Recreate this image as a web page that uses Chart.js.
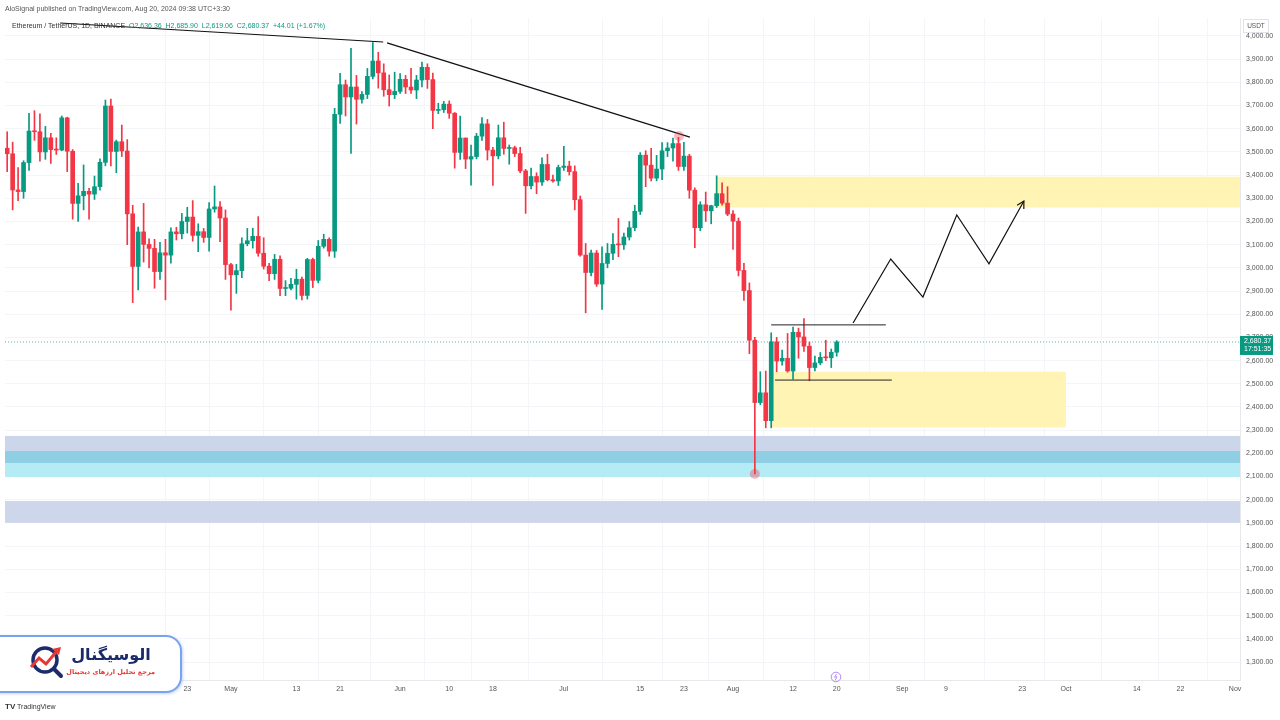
<!DOCTYPE html>
<html lang="en">
<head>
<meta charset="UTF-8" />
<title>Ethereum / TetherUS 1D</title>
<script src="https://cdn.jsdelivr.net/npm/chart.js"></script>
<style>
  body { margin: 0; background: #fff; font-family: "Liberation Sans", Arial, sans-serif; }
  #wrap { position: relative; width: 1280px; height: 720px; overflow: hidden; }
  #chart { position: absolute; left: 0; top: 0; }
  .txt { position: absolute; font-size: 7px; color: #555; white-space: nowrap; }
  .ohlc { color: #089981; }
  #unit { position: absolute; left: 1243px; top: 19px; width: 24px; height: 12px; border: 1px solid #e0e3eb;
          font-size: 6.5px; color: #555; text-align: center; line-height: 12px; }
  #logo { position: absolute; left: -16px; top: 635px; width: 194px; height: 54px; background: #fff;
          border: 2.5px solid #79a3ef; border-radius: 16px; box-shadow: 1px 1px 3px rgba(90,130,220,.35); }
  .fa { position: absolute; direction: rtl; text-align: center; font-family: "DejaVu Sans", sans-serif; font-weight: bold; white-space: nowrap; }
</style>
</head>
<body>
<div id="wrap">
  <canvas id="chart" width="1280" height="720"></canvas>

  <div class="txt" style="left:5px; top:5px;">AloSignal published on TradingView.com, Aug 20, 2024 09:38 UTC+3:30</div>
  <div class="txt" style="left:12px; top:22px; color:#333;">Ethereum / TetherUS, 1D, BINANCE&nbsp;
    <span class="ohlc">O2,636.36&nbsp; H2,685.90&nbsp; L2,619.06&nbsp; C2,680.37&nbsp; +44.01 (+1.67%)</span></div>
  <div id="unit">USDT</div>

  <div id="logo"></div>
  <svg width="40" height="40" viewBox="0 0 40 40" style="position:absolute; left:27px; top:642px;">
    <circle cx="18" cy="18" r="12" fill="none" stroke="#1c2b6b" stroke-width="3.5"/>
    <line x1="27" y1="27" x2="34" y2="34" stroke="#1c2b6b" stroke-width="4" stroke-linecap="round"/>
    <polyline points="4,25 12,16 19,22 30,9" fill="none" stroke="#e53935" stroke-width="3"/>
    <polygon points="34,5 25,7 32,13" fill="#e53935"/>
  </svg>
  <div class="fa" style="left:68px; top:645px; width:86px; font-size:16px; color:#1b2a6b;">الوسیگنال</div>
  <div class="fa" style="left:67px; top:668px; width:88px; font-size:6.5px; color:#e53935;">مرجع تحلیل ارزهای دیجیتال</div>

  <svg width="12" height="12" viewBox="0 0 12 12" style="position:absolute; left:830px; top:671px;">
    <circle cx="6" cy="6" r="4.8" fill="none" stroke="#b388ff" stroke-width="1"/>
    <polyline points="6.5,3 4.5,6.3 7,5.7 5.3,9" fill="none" stroke="#b388ff" stroke-width="0.9"/>
  </svg>

  <div class="txt" style="left:5px; top:702px; color:#333;"><b style="font-size:8px;">TV</b> TradingView</div>
</div>

<script>
  // daily candles, 2024-03-21 .. 2024-08-20 (x = day index)
  const opens = [
    3516,3492,3336,3329,3454,3590,3587,3500,3561,3510,3508,
    3647,3503,3278,3311,3330,3318,3350,3455,3698,3502,3544,3504,3233,3006,3155,3101,3084,2984,3065,3055,3155,3147,3200,3219,3140,3156,3131,3254,3263,3215,
    3014,2970,2988,3104,3117,3136,3063,3007,2975,3037,2911,2912,2929,2951,2881,3036,2946,3093,3123,3072,3662,3790,3737,3780,3727,3748,3826,3892,3841,3768,3747,
    3761,3813,3780,3767,3810,3865,3812,3679,3682,3706,3667,3498,3560,3469,3480,3568,3621,3508,3483,3561,3515,3518,3493,3418,3354,3394,3370,3446,3380,3375,
    3433,3439,3415,3294,3055,2980,3064,2930,3019,3063,3101,3099,3133,3173,3244,3486,3443,3387,3426,3505,3517,3536,3437,3482,3335,3173,3272,3246,3268,3320,3279,
    3232,3201,2989,2902,2688,2419,2461,2341,2681,2598,2610,2555,2722,2702,2662,2570,2590,2614,2612,2636
  ];
  const highs = [
    3587,3542,3433,3462,3666,3678,3664,3610,3580,3561,3655,
    3650,3510,3365,3444,3343,3396,3470,3724,3728,3551,3616,3553,3270,3176,3278,3125,3123,3110,3123,3173,3175,3235,3261,3290,3190,3170,3281,3353,3286,3250,
    3020,3015,3130,3170,3171,3221,3130,3020,3058,3052,2945,2955,2994,2960,3041,3042,3118,3145,3130,3688,3839,3810,3947,3830,3760,3860,3972,3930,3880,3832,3844,
    3838,3830,3861,3830,3887,3880,3840,3710,3718,3720,3670,3655,3560,3530,3580,3648,3640,3520,3616,3628,3530,3525,3520,3425,3430,3410,3475,3490,3400,3443,
    3524,3460,3440,3310,3105,3077,3075,3091,3105,3148,3213,3150,3200,3270,3497,3505,3515,3485,3540,3540,3560,3563,3541,3490,3345,3285,3327,3270,3397,3367,3350,
    3247,3215,3020,2935,2700,2552,2555,2720,2700,2645,2717,2745,2740,2781,2680,2620,2635,2688,2650,2686
  ];
  const lows = [
    3415,3250,3290,3300,3420,3550,3460,3468,3450,3489,3505,
    3415,3210,3200,3250,3210,3295,3335,3440,3440,3410,3480,3100,2850,2905,3025,3000,2912,2950,2862,3020,3120,3125,3150,3115,3070,3110,3072,3240,3113,2950,
    2817,2890,2958,3095,3085,3050,2995,2945,2950,2880,2880,2905,2865,2862,2865,2915,2935,3085,3050,3045,3623,3655,3494,3620,3710,3730,3815,3775,3740,3698,3730,
    3752,3752,3752,3730,3780,3774,3600,3665,3670,3645,3430,3468,3428,3357,3470,3550,3465,3355,3470,3490,3447,3480,3410,3235,3340,3320,3355,3375,3370,3355,
    3420,3400,3250,3050,2806,2965,2920,2821,3000,3035,3048,3080,3120,3160,3230,3350,3375,3375,3380,3480,3460,3420,3420,3300,3087,3160,3200,3190,3260,3270,3225,
    3080,2965,2860,2630,2111,2410,2310,2310,2552,2580,2550,2520,2610,2640,2513,2555,2582,2600,2570,2619
  ];
  const closes = [
    3492,3336,3329,3454,3590,3587,3500,3561,3510,3508,3647,
    3503,3278,3311,3330,3318,3350,3455,3698,3502,3544,3504,3233,3006,3155,3101,3084,2984,3065,3055,3155,3147,3200,3219,3140,3156,3131,3254,3263,3215,3014,
    2970,2988,3104,3117,3136,3063,3007,2975,3037,2911,2912,2929,2951,2881,3036,2946,3093,3123,3072,3662,3790,3737,3780,3727,3748,3826,3892,3841,3768,3747,3761,
    3813,3780,3767,3810,3865,3812,3679,3682,3706,3667,3498,3560,3469,3480,3568,3621,3508,3483,3561,3515,3518,3493,3418,3354,3394,3370,3446,3380,3375,3433,
    3439,3415,3294,3055,2980,3064,2930,3019,3063,3101,3099,3133,3173,3244,3486,3443,3387,3426,3505,3517,3536,3437,3482,3335,3173,3272,3246,3268,3320,3279,3232,
    3201,2989,2902,2688,2419,2461,2341,2681,2598,2610,2555,2722,2702,2662,2570,2590,2614,2612,2636,2680.37
  ];

  const lastPrice = 2680.37;

  // time axis labels (day index from Mar 21)
  const xTickIdx    = [33, 41, 53, 61, 72, 81, 89, 102, 116, 124, 133, 144, 152, 164, 172, 186, 194, 207, 215, 225];
  const xTickLabels = ['23','May','13','21','Jun','10','18','Jul','15','23','Aug','12','20','Sep','9','23','Oct','14','22','Nov'];

  // drawings: [x0, x1, priceLow, priceHigh]
  const supplyZone   = [129.9, 225.9, 3260, 3393];
  const demandZone   = [140, 194, 2312, 2552];
  const supportBandA = [-0.4, 225.9, 2210, 2275];
  const supportBandB = [-0.4, 225.9, 2158, 2210];
  const supportBandC = [-0.4, 225.9, 2098, 2158];
  const supportBandD = [-0.4, 225.9, 1900, 1994];
  // [x, price] points
  const trendA   = [[9.7, 4056], [68.9, 3974]];
  const trendB   = [[69.6, 3970], [125.1, 3564]];
  const rangeTop = [[140, 2754], [161, 2754]];
  const rangeLow = [[140.7, 2516], [162.1, 2516]];
  const pathUp   = [[155, 2762], [161.9, 3038], [167.8, 2874], [174, 3228], [179.9, 3017], [186.3, 3288]];
  const marks    = [[123.1, 3569], [137, 2111]];

  const UP = '#089981', DOWN = '#f23645';
  const colors = closes.map((c, i) => c >= opens[i] ? UP : DOWN);
  const wickData = lows.map((l, i) => ({ x: i, y: [l, highs[i]] }));
  const bodyData = opens.map((o, i) => ({ x: i, y: [Math.min(o, closes[i]), Math.max(o, closes[i])] }));
  const pts = arr => arr.map(p => ({ x: p[0], y: p[1] }));

  const zones = [
    [supplyZone, '#fff4b3'], [demandZone, '#fff4b3'],
    [supportBandA, '#ccd6ea'], [supportBandB, '#8fcfe3'], [supportBandC, '#b4ebf4'], [supportBandD, '#cdd6ea']
  ];

  const drawings = {
    id: 'drawings',
    beforeDatasetsDraw(chart) {
      const { ctx, scales: { x, y }, chartArea: a } = chart;
      ctx.save();
      ctx.beginPath(); ctx.rect(a.left, a.top, a.width, a.height); ctx.clip();
      zones.forEach(([z, col]) => {
        const x0 = x.getPixelForValue(z[0]), x1 = x.getPixelForValue(z[1]);
        const y0 = y.getPixelForValue(z[3]), y1 = y.getPixelForValue(z[2]);
        ctx.fillStyle = col;
        ctx.fillRect(x0, y0, x1 - x0, y1 - y0);
      });
      ctx.restore();
    },
    afterDatasetsDraw(chart) {
      const { ctx, scales: { x, y } } = chart;
      ctx.save();
      // marker circles
      ctx.fillStyle = 'rgba(242,54,69,0.35)';
      marks.forEach(m => {
        ctx.beginPath();
        ctx.arc(x.getPixelForValue(m[0]), y.getPixelForValue(m[1]), 5, 0, Math.PI * 2);
        ctx.fill();
      });
      // arrow head on projected path
      const p1 = pathUp[pathUp.length - 2], p2 = pathUp[pathUp.length - 1];
      const ax = x.getPixelForValue(p2[0]), ay = y.getPixelForValue(p2[1]);
      const ang = Math.atan2(ay - y.getPixelForValue(p1[1]), ax - x.getPixelForValue(p1[0]));
      ctx.strokeStyle = '#111'; ctx.lineWidth = 1.2;
      ctx.beginPath();
      ctx.moveTo(ax - 8 * Math.cos(ang - 0.5), ay - 8 * Math.sin(ang - 0.5));
      ctx.lineTo(ax, ay);
      ctx.lineTo(ax - 8 * Math.cos(ang + 0.5), ay - 8 * Math.sin(ang + 0.5));
      ctx.stroke();
      ctx.restore();
    },
    afterDraw(chart) {
      const { ctx, scales: { y }, chartArea: a } = chart;
      const py = y.getPixelForValue(lastPrice);
      ctx.save();
      ctx.fillStyle = UP;
      ctx.fillRect(a.right, py - 6, 33, 19);
      ctx.fillStyle = '#fff';
      ctx.font = '7px "Liberation Sans", Arial';
      ctx.textBaseline = 'middle';
      ctx.fillText('2,680.37', a.right + 4, py - 1);
      ctx.fillText('17:51:35', a.right + 4, py + 7);
      ctx.restore();
    }
  };

  const lineDs = (data, color, extra) => Object.assign({
    type: 'line', data: pts(data), borderColor: color, borderWidth: 1.2,
    pointRadius: 0, fill: false, tension: 0, order: 0
  }, extra || {});

  new Chart(document.getElementById('chart'), {
    type: 'bar',
    data: {
      datasets: [
        { data: wickData, backgroundColor: colors, barThickness: 1, grouped: false, order: 2 },
        { data: bodyData, backgroundColor: colors, barThickness: 4, grouped: false, minBarLength: 1, order: 1 },
        lineDs([[-0.4, lastPrice], [225.9, lastPrice]], 'rgba(8,153,129,0.7)', { borderWidth: 1, borderDash: [1, 2] }),
        lineDs(trendA, '#111'),
        lineDs(trendB, '#111'),
        lineDs(rangeTop, '#222', { borderWidth: 1 }),
        lineDs(rangeLow, '#222', { borderWidth: 1 }),
        lineDs(pathUp, '#111')
      ]
    },
    options: {
      responsive: false,
      animation: false,
      devicePixelRatio: 1,
      layout: { padding: { left: 5, top: 18, right: 0, bottom: 0 } },
      plugins: { legend: { display: false }, tooltip: { enabled: false } },
      scales: {
        x: {
          type: 'linear', min: -0.4, max: 225.9, offset: false,
          afterFit: s => { s.height = 40; },
          afterBuildTicks: s => { s.ticks = xTickIdx.map(v => ({ value: v })); },
          grid: { color: '#f4f5f8', drawTicks: false },
          border: { color: '#e6e8ec' },
          ticks: {
            padding: 5, maxRotation: 0, autoSkip: false, color: '#555',
            font: { size: 7, family: '"Liberation Sans", Arial' },
            callback: (v, i) => xTickLabels[i]
          }
        },
        y: {
          position: 'right', min: 1222.4, max: 4077.6,
          afterFit: s => { s.width = 40; },
          afterBuildTicks: s => {
            const t = [];
            for (let v = 1300; v <= 4000; v += 100) t.push({ value: v });
            s.ticks = t;
          },
          grid: { color: '#f4f5f8', drawTicks: false },
          border: { color: '#e6e8ec' },
          ticks: {
            padding: 6, color: '#555',
            font: { size: 7, family: '"Liberation Sans", Arial' },
            callback: v => v.toLocaleString('en-US', { minimumFractionDigits: 2, maximumFractionDigits: 2 })
          }
        }
      }
    },
    plugins: [drawings]
  });
</script>
</body>
</html>
